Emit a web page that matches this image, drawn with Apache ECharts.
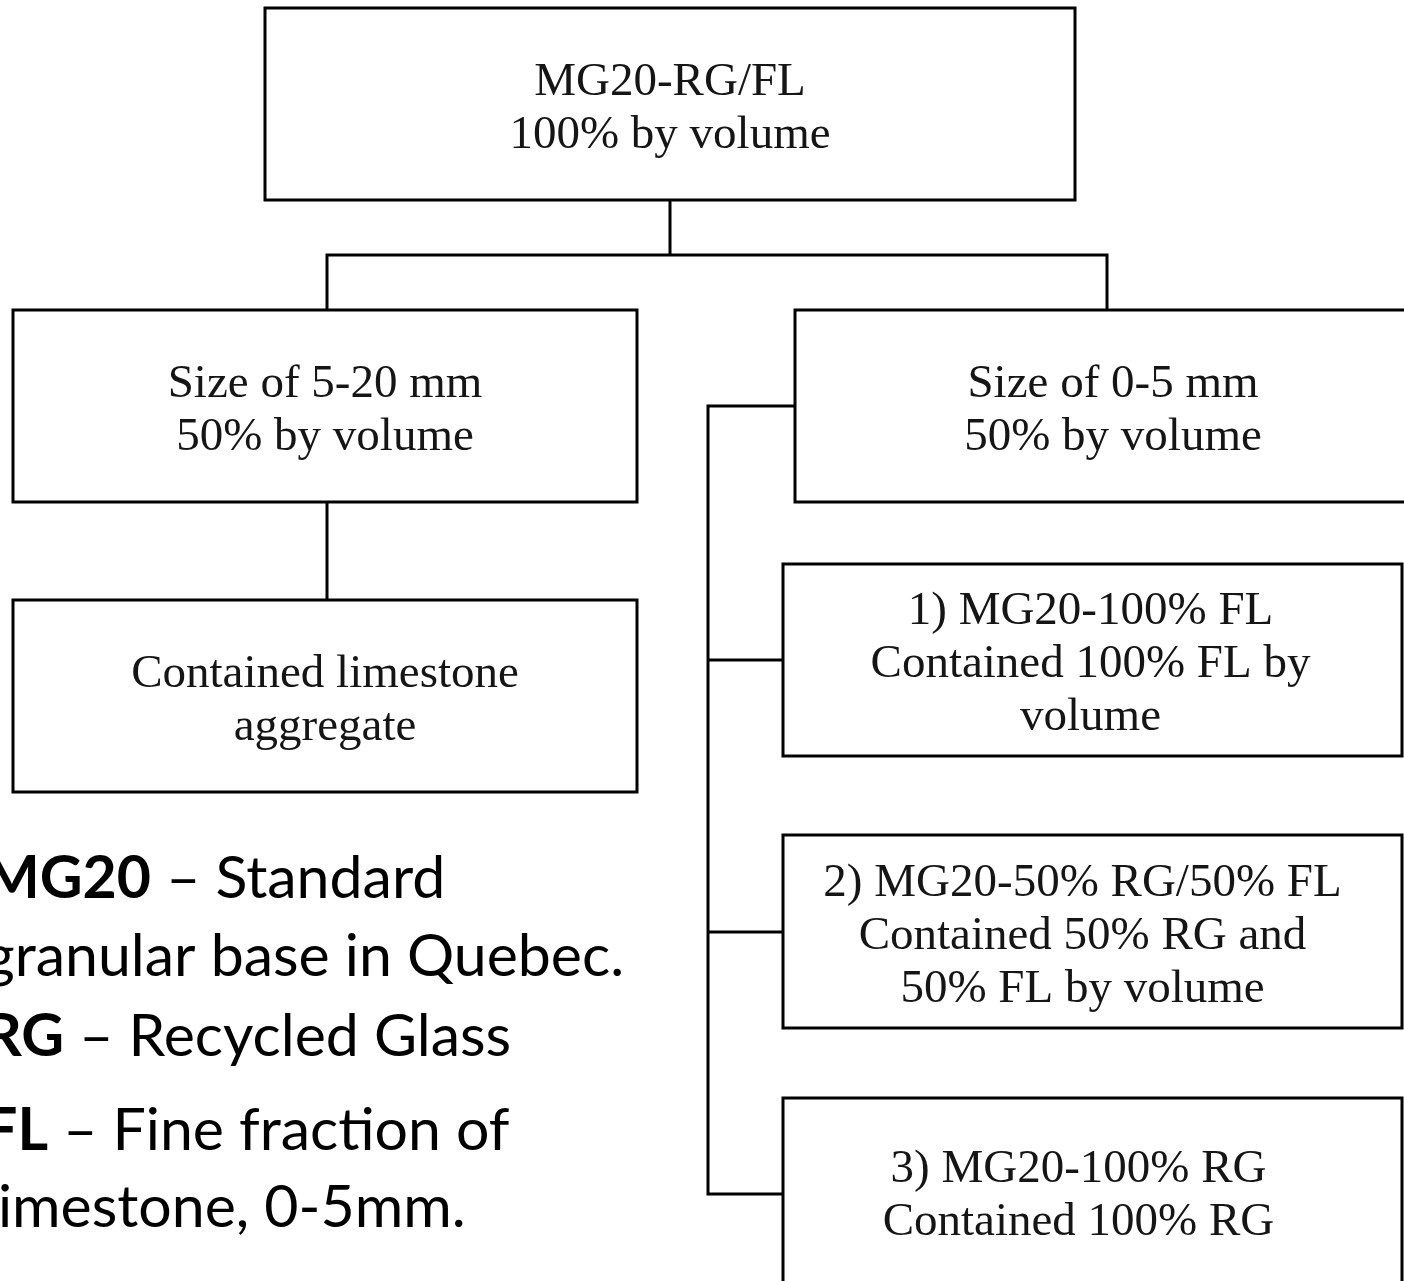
<!DOCTYPE html>
<html>
<head>
<meta charset="utf-8">
<script src="https://cdn.jsdelivr.net/npm/echarts@6/dist/echarts.min.js"></script>
<style>
  html, body { margin: 0; padding: 0; background: #fff; }
  #main { width: 1404px; height: 1281px; }
</style>
</head>
<body>
<div id="main"></div>
<script>
// boxes of the flow chart, in picture units (x right, y down)
var boxX = [265, 13, 795, 13, 783, 783, 783];
var boxY = [8, 310, 310, 600, 564, 835, 1098];
var boxW = [810, 624, 636, 624, 619, 619, 619];
var boxH = [192, 192, 192, 192, 192, 193, 186];
var boxText = [
  ['MG20-RG/FL', '100% by volume'],
  ['Size of 5-20 mm', '50% by volume'],
  ['Size of 0-5 mm', '50% by volume'],
  ['Contained limestone', 'aggregate'],
  ['1) MG20-100% FL', 'Contained 100% FL by', 'volume'],
  ['2) MG20-50% RG/50% FL', 'Contained 50% RG and', '50% FL by volume'],
  ['3) MG20-100% RG', 'Contained 100% RG']
];
// text sits a little left of centre in the last boxes
var textShift = [0, 0, 0, 0, -2, -10, -14];

// connector lines (polylines)
var links = [
  [[670, 200], [670, 255]],
  [[327, 310], [327, 255], [1107, 255], [1107, 310]],
  [[327, 502], [327, 600]],
  [[795, 406], [708, 406], [708, 1194], [783, 1194]],
  [[708, 660], [783, 660]],
  [[708, 932], [783, 932]]
];

// abbreviations note at lower left (pieces split so no ligatures form)
var noteTerm = ['MG20', '', 'RG', 'FL', ''];
var noteDesc = [
  [' \u2013 Standard'],
  ['granular base in Quebec.'],
  [' \u2013 Recycled Glass'],
  [' \u2013 Fine frac', 'tion of'],
  ['limestone, 0-5mm.']
];
var noteX = [-16, -16, -16, -16, -16];
var noteY = [879, 957, 1037, 1131, 1208];

var chart = echarts.init(document.getElementById('main'));

var noteFont = { fontFamily: 'Lato, sans-serif', fontSize: 59, fill: '#000' };

var option = {
  backgroundColor: '#fff',
  animation: false,
  grid: { left: 0, right: 0, top: 0, bottom: 0 },
  xAxis: { type: 'value', min: 0, max: 1404, show: false },
  yAxis: { type: 'value', min: 0, max: 1281, inverse: true, show: false },
  series: [
    {
      type: 'lines',
      coordinateSystem: 'cartesian2d',
      polyline: true,
      silent: true,
      lineStyle: { color: '#000', width: 3, opacity: 1 },
      data: links.map(function (pts) { return { coords: pts }; }),
      z: 1
    },
    {
      type: 'custom',
      silent: true,
      clip: false,
      data: boxX.map(function (x, i) { return [x, boxY[i], boxW[i], boxH[i]]; }),
      renderItem: function (params, api) {
        var i = params.dataIndex;
        var p0 = api.coord([api.value(0), api.value(1)]);
        var p1 = api.coord([api.value(0) + api.value(2), api.value(1) + api.value(3)]);
        return {
          type: 'group',
          children: [
            {
              type: 'rect',
              shape: { x: p0[0], y: p0[1], width: p1[0] - p0[0], height: p1[1] - p0[1] },
              style: { fill: '#fff', stroke: '#000', lineWidth: 3 }
            },
            {
              type: 'text',
              x: (p0[0] + p1[0]) / 2 + textShift[i],
              y: (p0[1] + p1[1]) / 2 + 5,
              style: {
                text: boxText[i].join('\n'),
                fontFamily: '"Liberation Serif", serif',
                fontSize: 47,
                lineHeight: 53,
                fill: '#151515',
                align: 'center',
                verticalAlign: 'middle'
              }
            }
          ]
        };
      },
      z: 2
    },
    {
      type: 'custom',
      silent: true,
      clip: false,
      data: noteX.map(function (x, i) { return [x, noteY[i]]; }),
      renderItem: function (params, api) {
        var i = params.dataIndex;
        var p = api.coord([api.value(0), api.value(1)]);
        var txt = (noteTerm[i] ? '{b|' + noteTerm[i] + '}' : '') +
          noteDesc[i].map(function (s, k) { return '{r' + k + '|' + s + '}'; }).join('');
        return {
          type: 'text',
          x: p[0],
          y: p[1],
          style: {
            text: txt,
            align: 'left',
            verticalAlign: 'middle',
            fill: '#000',
            rich: {
              b: { fontFamily: 'Lato, sans-serif', fontSize: 59, fontWeight: 'bold', fill: '#000' },
              r0: noteFont,
              r1: { fontFamily: 'Lato, sans-serif', fontSize: 59, fill: '#010101' }
            }
          }
        };
      },
      z: 3
    }
  ]
};

chart.setOption(option);
</script>
</body>
</html>
